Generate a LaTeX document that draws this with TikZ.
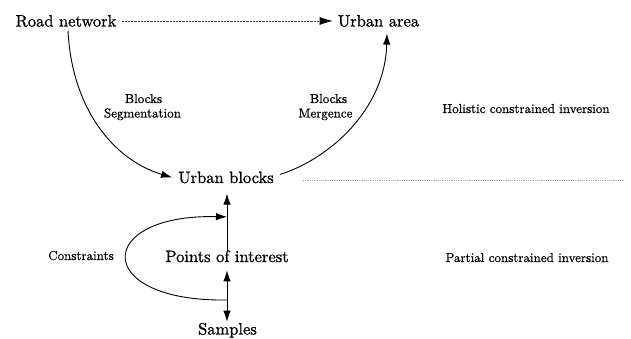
\documentclass[tikz,border=0pt]{standalone}
\usepackage{fontspec}
\newfontfamily\heavyfont{lmroman10-regular.otf}[FakeBold=1.0]
\newfontfamily\medfont{lmroman10-regular.otf}[FakeBold=0.6]
\usetikzlibrary{arrows.meta,calc}
\begin{document}
\begin{tikzpicture}[x=1pt,y=-1pt,
  mainlbl/.style={font=\heavyfont\fontsize{16.5}{18}\selectfont,anchor=base,inner sep=2pt},
  smalllbl/.style={font=\medfont\fontsize{13}{15}\selectfont,anchor=base,inner sep=1pt},
  conn/.style={line width=0.9pt,-{Latex[length=11pt,width=7.5pt]}},
  dconn/.style={line width=0.9pt,{Latex[length=11pt,width=7.5pt]}-{Latex[length=11pt,width=7.5pt]}},
  dashconn/.style={line width=0.7pt,gray!50!black,dash pattern=on 2.2pt off 1pt,
    /tikz/arrows={-{Latex[length=13pt,width=8pt,black]}}},
  sepline/.style={line width=0.8pt,gray!70,dash pattern=on 1pt off 0.8pt}]
\useasboundingbox (0,0) rectangle (631,339);
\node[mainlbl] (rn) at (66,26.5) {Road network};
\node[mainlbl] (ua) at (378.5,26.5) {Urban area};
\node[mainlbl] (ub) at (226,183) {Urban blocks};
\node[mainlbl] (poi) at (227,262) {Points of interest};
\node[mainlbl] (sa) at (227.5,334.5) {Samples};
\node[smalllbl] (cons) at (81,260) {Constraints};
\node[smalllbl] (bs1) at (143.5,103) {Blocks};
\node[smalllbl] (bs2) at (142.5,117.5) {Segmentation};
\node[smalllbl] (bm1) at (328.5,103) {Blocks};
\node[smalllbl] (bm2) at (325.5,117.5) {Mergence};
\node[smalllbl] (hol) at (526,113) {Holistic constrained inversion};
\node[smalllbl] (par) at (527,262) {Partial constrained inversion};
% connectors
\draw[dashconn] ($(rn.east)+(3,0)$) -- ($(ua.west)+(-3,0)$);
\draw[conn] ($(rn.south)+(2,1.5)$) .. controls +(4,80) and +(-57,-17) .. ($(ub.west)+(-4,0)$);
\draw[conn] ($(ub.east)+(4,-3)$) .. controls +(48,-15) and +(-2,77) .. ($(ua.south)+(8.5,4.5)$);
\draw[conn] ($(poi.north)+(0,3)$) -- ($(ub.south -| poi.north)+(0,8)$);
\draw[dconn] ($(poi.south)+(0,6)$) -- ($(sa.north)+(-0.5,1)$);
\coordinate (lp0) at (poi.south |- 0,300);
\coordinate (lp1) at ($(ub.south -| poi.north)!0.5!(poi.north)$);
\draw[conn] (lp0) .. controls +(-135,2) and +(-133,-3) .. (lp1);
\draw[sepline] (303,180) -- (625,180);
\end{tikzpicture}
\end{document}
